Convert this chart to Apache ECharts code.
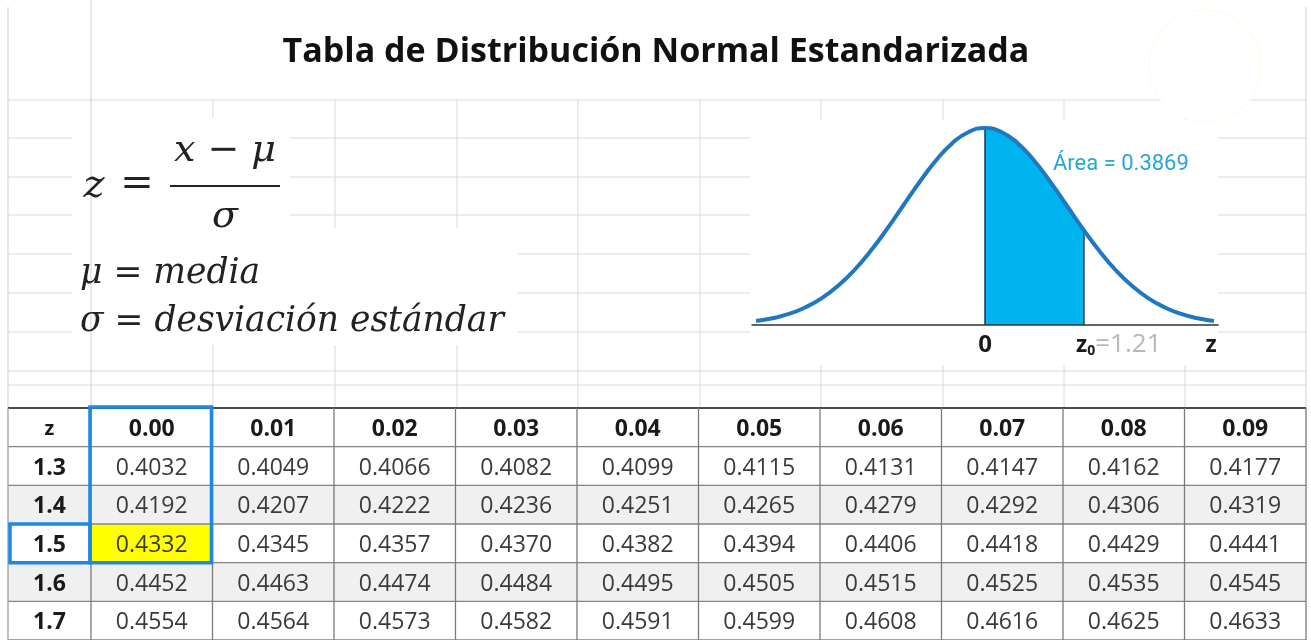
<!DOCTYPE html>
<html>
<head>
<meta charset="utf-8">
<script src="https://cdn.jsdelivr.net/npm/echarts@6/dist/echarts.min.js"></script>
<style>
html,body{margin:0;padding:0;background:#ffffff;}
#chart{width:1311px;height:640px;}
</style>
</head>
<body>
<div id="chart"></div>
<script>
// ---------------- data ----------------
const titleText = 'Tabla de Distribución Normal Estandarizada';
const colHeaders = ['0.00','0.01','0.02','0.03','0.04','0.05','0.06','0.07','0.08','0.09'];
const rowLabels = ['1.3','1.4','1.5','1.6','1.7'];
const row13 = [0.4032,0.4049,0.4066,0.4082,0.4099,0.4115,0.4131,0.4147,0.4162,0.4177];
const row14 = [0.4192,0.4207,0.4222,0.4236,0.4251,0.4265,0.4279,0.4292,0.4306,0.4319];
const row15 = [0.4332,0.4345,0.4357,0.4370,0.4382,0.4394,0.4406,0.4418,0.4429,0.4441];
const row16 = [0.4452,0.4463,0.4474,0.4484,0.4495,0.4505,0.4515,0.4525,0.4535,0.4545];
const row17 = [0.4554,0.4564,0.4573,0.4582,0.4591,0.4599,0.4608,0.4616,0.4625,0.4633];
const highlightRow = '1.5';
const highlightCol = '0.00';
const shadedRows = ['1.4','1.6'];

const curveZ = [-2.8,-2.6,-2.4,-2.2,-2.0,-1.8,-1.6,-1.4,-1.2,-1.0,-0.8,-0.6,-0.4,-0.2,0,
                0.2,0.4,0.6,0.8,1.0,1.2,1.4,1.6,1.8,2.0,2.2,2.4,2.6,2.8];
const curveDensity = [0.0079,0.0136,0.0224,0.0355,0.0540,0.0790,0.1109,0.1497,0.1942,0.2420,0.2897,0.3332,0.3683,0.3910,0.3989,
                      0.3910,0.3683,0.3332,0.2897,0.2420,0.1942,0.1497,0.1109,0.0790,0.0540,0.0355,0.0224,0.0136,0.0079];
const shadeZ = [0,0.2,0.4,0.6,0.8,1.0,1.2,1.21];
const shadeDensity = [0.3989,0.3910,0.3683,0.3332,0.2897,0.2420,0.1942,0.1919];
const z0 = 1.21;
const areaValue = 0.3869;

// ---------------- build table cells ----------------
const tableRows = [row13,row14,row15,row16,row17];
const yCats = ['z'].concat(rowLabels);
const cells = [];
cells.push({c:-1, r:0, text:'z', kind:'head'});
colHeaders.forEach((h,i)=>cells.push({c:i, r:0, text:h, kind:'head'}));
rowLabels.forEach((lab,ri)=>{
  cells.push({c:-1, r:ri+1, text:lab, kind:'rowlab'});
  tableRows[ri].forEach((v,ci)=>cells.push({c:ci, r:ri+1, text:v.toFixed(4), kind:'val'}));
});
const Z_COL_START = -0.683;
const SANS = '"Open Sans"';

function cellSpan(c){ return c < 0 ? [Z_COL_START, 0] : [c, c+1]; }

function renderCell(params, api){
  const cell = cells[params.dataIndex];
  const sp = cellSpan(cell.c);
  const p0 = api.coord([sp[0], cell.r]);
  const p1 = api.coord([sp[1], cell.r]);
  const h = api.size([0,1])[1];
  const x = p0[0], y = p0[1]-h/2, w = p1[0]-p0[0];
  let fill = '#ffffff';
  const rowName = yCats[cell.r];
  if (cell.r > 0 && shadedRows.indexOf(rowName) >= 0) fill = '#f0f0f0';
  if (rowName === highlightRow && cell.c >= 0 && colHeaders[cell.c] === highlightCol) fill = '#ffff00';
  const bold = cell.kind !== 'val';
  const size = (cell.kind === 'head' && cell.c < 0) ? 20 : 23;
  return {
    type:'group',
    children:[
      {type:'rect', shape:{x:x, y:y, width:w, height:h}, style:{fill:fill}},
      {type:'text', style:{x:x+w/2, y:p0[1]+2, text:cell.text,
        font:(bold?'bold ':'')+size+'px '+SANS, fill: bold ? '#1a1a1a' : '#3a3a3a',
        align:'center', verticalAlign:'middle'}}
    ]
  };
}

function renderLines(params, api){
  const children = [];
  const h = api.size([0,1])[1];
  const left = api.coord([Z_COL_START,0])[0];
  const right = api.coord([colHeaders.length,0])[0];
  for (let r=0; r<=yCats.length; r++){
    const yc = r < yCats.length ? api.coord([0,r])[1]-h/2 : api.coord([0,yCats.length-1])[1]+h/2;
    children.push({type:'line', shape:{x1:left,y1:yc,x2:right,y2:yc},
      style:{stroke: r===0 ? '#4a4a4a' : '#858585', lineWidth: r===0 ? 2 : 1.3}});
  }
  const top = api.coord([0,0])[1]-h/2;
  const bottom = api.coord([0,yCats.length-1])[1]+h/2;
  const xs = [Z_COL_START];
  for (let c=0;c<=colHeaders.length;c++) xs.push(c);
  xs.forEach((xv,i)=>{
    const xp = api.coord([xv,0])[0];
    children.push({type:'line', shape:{x1:xp,y1:top,x2:xp,y2:bottom},
      style:{stroke: i===0 ? '#a0a0a0' : '#7a7a7a', lineWidth:1.3}});
  });
  return {type:'group', children:children};
}

function renderHighlight(params, api){
  const h = api.size([0,1])[1];
  const ci = colHeaders.indexOf(highlightCol);
  const ri = yCats.indexOf(highlightRow);
  const cx0 = api.coord([ci,0])[0], cx1 = api.coord([ci+1,0])[0];
  const top = api.coord([ci,0])[1]-h/2;
  const rowC = api.coord([ci,ri])[1];
  const bottom = rowC + h/2;
  const zx0 = api.coord([Z_COL_START,ri])[0];
  const st = {fill:'none', stroke:'#1e88e5', lineWidth:3.5};
  return {type:'group', children:[
    {type:'rect', shape:{x:cx0-1, y:top-1, width:cx1-cx0, height:bottom-top+1}, style:st},
    {type:'rect', shape:{x:zx0+2, y:rowC-h/2, width:cx0-1-zx0-2, height:h}, style:st}
  ]};
}

// ---------------- background spreadsheet grid ----------------
const gfx = [];
const hLines = [100,138,177,215,254,293,332,371,385];
hLines.forEach(y=>gfx.push({type:'line', z:0, shape:{x1:8,y1:y,x2:1306,y2:y}, style:{stroke:'#dadada', lineWidth:1}}));
const vFull = [8,1306];
const vCols = [213,335,457,578,700,821,943,1064,1185];
vFull.forEach(x=>gfx.push({type:'line', z:0, shape:{x1:x,y1:7,x2:x,y2:408}, style:{stroke:'#d0d0d0', lineWidth:1}}));
vCols.forEach(x=>gfx.push({type:'line', z:0, shape:{x1:x,y1:100,x2:x,y2:408}, style:{stroke:'#dadada', lineWidth:1}}));
// white image boxes covering the grid
gfx.push({type:'rect', z:1, shape:{x:72,y:118,width:218,height:110}, style:{fill:'#ffffff'}});
gfx.push({type:'rect', z:1, shape:{x:72,y:228,width:446,height:117}, style:{fill:'#ffffff'}});
gfx.push({type:'rect', z:1, shape:{x:750,y:120,width:468,height:245}, style:{fill:'#ffffff'}});
gfx.push({type:'circle', z:1, shape:{cx:1205,cy:66,r:56}, style:{fill:'#ffffff', stroke:'#fffcee', lineWidth:1.5}});
gfx.push({type:'line', z:1, shape:{x1:91,y1:0,x2:91,y2:408}, style:{stroke:'#d0d0d0', lineWidth:1}});

// ---------------- texts ----------------
gfx.push({type:'text', z:10, x:656, y:52, style:{text:titleText, font:'bold 34px '+SANS, fill:'#111111', align:'center', verticalAlign:'middle'}});
const serifI = 'italic 38px "DejaVu Serif"';
gfx.push({type:'text', z:10, x:94, y:187, style:{text:'z', font:'italic 40px "DejaVu Serif"', fill:'#222', align:'center', verticalAlign:'middle'}});
gfx.push({type:'text', z:10, x:137, y:185, style:{text:'=', font:'40px "DejaVu Serif"', fill:'#222', align:'center', verticalAlign:'middle'}});
gfx.push({type:'line', z:10, shape:{x1:170,y1:186,x2:280,y2:186}, style:{stroke:'#222', lineWidth:2}});
gfx.push({type:'text', z:10, x:225, y:151, style:{text:'x − μ', font:serifI, fill:'#222', align:'center', verticalAlign:'middle'}});
gfx.push({type:'text', z:10, x:225, y:217, style:{text:'σ', font:serifI, fill:'#222', align:'center', verticalAlign:'middle'}});
const serifI2 = 'italic 34.5px "DejaVu Serif"';
gfx.push({type:'text', z:10, x:80, y:274, style:{text:'μ = media', font:serifI2, fill:'#222', align:'left', verticalAlign:'middle'}});
gfx.push({type:'text', z:10, x:80, y:322, style:{text:'σ = desviación estándar', font:serifI2, fill:'#222', align:'left', verticalAlign:'middle'}});
// curve labels
gfx.push({type:'text', z:10, x:1053, y:164, style:{text:'Área = ' + areaValue.toFixed(4), font:'22px Roboto', fill:'#2aa5d8', align:'left', verticalAlign:'middle'}});
gfx.push({type:'text', z:10, x:985, y:345, style:{text:'0', font:'bold 24px '+SANS, fill:'#1a1a1a', align:'center', verticalAlign:'middle'}});
gfx.push({type:'text', z:10, x:1076, y:345, style:{
  text:'{b|z}{s|0}{g|=' + z0.toFixed(2) + '}', align:'left', verticalAlign:'middle',
  rich:{b:{font:'bold 23px '+SANS, fill:'#1a1a1a'}, s:{font:'bold 14px '+SANS, fill:'#1a1a1a', padding:[12,0,0,0]}, g:{font:'26px '+SANS, fill:'#b8b8b8'}}
}});
gfx.push({type:'text', z:10, x:1211, y:345, style:{text:'z', font:'bold 23px '+SANS, fill:'#1a1a1a', align:'center', verticalAlign:'middle'}});

// ---------------- chart ----------------
const chart = echarts.init(document.getElementById('chart'), null, {renderer:'canvas'});
const option = {
  animation:false,
  backgroundColor:'#ffffff',
  graphic: gfx,
  grid:[
    {left:8, top:408, width:1298, height:232, outerBoundsMode:'none', containLabel:false},
    {left:752, top:127.5, width:466, height:197.5, outerBoundsMode:'none', containLabel:false}
  ],
  xAxis:[
    {gridIndex:0, type:'value', min:Z_COL_START, max:colHeaders.length, show:false},
    {gridIndex:1, type:'value', min:-2.85, max:2.85, z:6,
     axisLine:{show:true, onZero:false, lineStyle:{color:'#333333', width:1.5}},
     axisTick:{show:false}, axisLabel:{show:false}, splitLine:{show:false}}
  ],
  yAxis:[
    {gridIndex:0, type:'category', data:yCats, inverse:true, show:false, boundaryGap:true},
    {gridIndex:1, type:'value', min:0, max:0.4, show:false}
  ],
  series:[
    {type:'custom', xAxisIndex:0, yAxisIndex:0, renderItem:renderCell,
     data:cells.map(c=>[c.c, c.r]), encode:{x:0,y:1}, z:2, silent:true},
    {type:'custom', xAxisIndex:0, yAxisIndex:0, renderItem:renderLines,
     data:[[0,0]], encode:{x:0,y:1}, z:3, silent:true},
    {type:'custom', xAxisIndex:0, yAxisIndex:0, renderItem:renderHighlight,
     data:[[0,0]], encode:{x:0,y:1}, z:4, silent:true},
    {type:'line', xAxisIndex:1, yAxisIndex:1, data:shadeZ.map((z,i)=>[z,shadeDensity[i]]),
     smooth:true, symbol:'none', lineStyle:{width:0}, areaStyle:{color:'#00b5ef', opacity:1}, z:2, silent:true},
    {type:'line', xAxisIndex:1, yAxisIndex:1, data:[[0,0],[0,shadeDensity[0]]],
     symbol:'none', lineStyle:{color:'#1d3550', width:1.5}, z:3, silent:true},
    {type:'line', xAxisIndex:1, yAxisIndex:1, data:[[z0,0],[z0,shadeDensity[shadeDensity.length-1]]],
     symbol:'none', lineStyle:{color:'#1d3550', width:1.5}, z:3, silent:true},
    {type:'line', xAxisIndex:1, yAxisIndex:1, data:curveZ.map((z,i)=>[z,curveDensity[i]]),
     smooth:true, symbol:'none', lineStyle:{color:'#1f78c1', width:4}, z:4, silent:true}
  ]
};
chart.setOption(option);
</script>
</body>
</html>
